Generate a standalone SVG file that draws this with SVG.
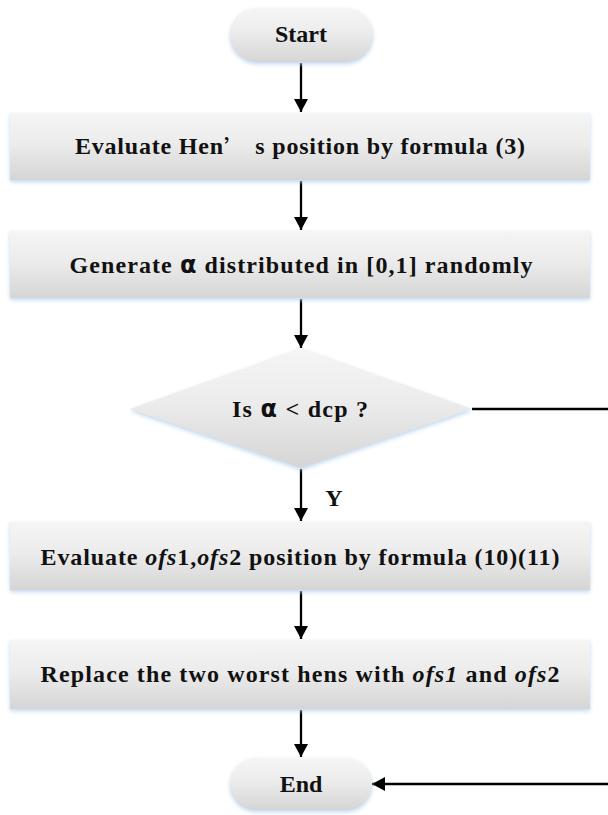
<svg xmlns="http://www.w3.org/2000/svg" width="608" height="815" viewBox="0 0 608 815">
  <defs>
    <linearGradient id="shade" x1="0" y1="0" x2="0" y2="1">
      <stop offset="0" stop-color="#f5f5f5"/>
      <stop offset="0.45" stop-color="#ececec"/>
      <stop offset="1" stop-color="#d5d5d5"/>
    </linearGradient>
    <filter id="glow" x="-5%" y="-10%" width="110%" height="130%">
      <feGaussianBlur in="SourceAlpha" stdDeviation="2"/>
      <feOffset dy="2" result="b"/>
      <feFlood flood-color="#b9d3ec" flood-opacity="0.9"/>
      <feComposite in2="b" operator="in" result="s"/>
      <feMerge><feMergeNode in="s"/><feMergeNode in="SourceGraphic"/></feMerge>
    </filter>
    <marker id="arrow" viewBox="0 0 13 14" refX="13" refY="7" markerWidth="13" markerHeight="14" markerUnits="userSpaceOnUse" orient="auto">
      <path d="M0,0 L13,7 L0,14 z" fill="#000"/>
    </marker>
  </defs>
  <style>
    .shape { fill: url(#shade); filter: url(#glow); }
    .lbl { font-family: "Liberation Serif", "Times New Roman", serif; font-weight: bold; font-size: 24px; fill: #111; text-anchor: middle; dominant-baseline: central; }
    .edge { stroke: #000; stroke-width: 2.3; fill: none; }
    .greek { font-family: "DejaVu Sans", sans-serif; font-size: 24px; }
  </style>

  <rect width="608" height="815" fill="#fff"/>

  <g id="connectors">
    <line class="edge" x1="301" y1="63" x2="301" y2="112" marker-end="url(#arrow)"/>
    <line class="edge" x1="301" y1="181" x2="301" y2="230" marker-end="url(#arrow)"/>
    <line class="edge" x1="301" y1="299" x2="301" y2="348" marker-end="url(#arrow)"/>
    <line class="edge" x1="301" y1="469" x2="301" y2="521" marker-end="url(#arrow)"/>
    <line class="edge" x1="301" y1="591" x2="301" y2="639" marker-end="url(#arrow)"/>
    <line class="edge" x1="301" y1="710" x2="301" y2="757" marker-end="url(#arrow)"/>
    <polyline class="edge" points="472,409 608,409"/>
    <line class="edge" x1="608" y1="784" x2="372" y2="784" marker-end="url(#arrow)"/>
    <text class="lbl" x="334" y="498">Y</text>
  </g>

  <g id="start">
    <rect class="shape" x="230" y="8" width="143" height="54" rx="27"/>
    <text class="lbl" x="301" y="34">Start</text>
  </g>

  <g id="eval-hen">
    <rect class="shape" x="10" y="113" width="580" height="67"/>
    <text class="lbl" x="300" y="146" textLength="450" lengthAdjust="spacing">Evaluate Hen<tspan font-family="Noto Sans CJK SC, sans-serif" font-weight="normal">’</tspan> s position by formula (3)</text>
  </g>

  <g id="gen-alpha">
    <rect class="shape" x="10" y="231" width="580" height="67"/>
    <text class="lbl" x="301" y="265" textLength="463" lengthAdjust="spacing">Generate <tspan class="greek">α</tspan> distributed in [0,1] randomly</text>
  </g>

  <g id="decision">
    <polygon class="shape" points="301,348 472,409 301,468 130,409"/>
    <text class="lbl" x="300" y="409" textLength="136" lengthAdjust="spacing">Is <tspan class="greek">α</tspan> &lt;  dcp ?</text>
  </g>

  <g id="eval-ofs">
    <rect class="shape" x="10" y="522" width="580" height="68"/>
    <text class="lbl" x="300" y="557" textLength="519" lengthAdjust="spacing">Evaluate <tspan font-style="italic">ofs</tspan>1,<tspan font-style="italic">ofs</tspan>2 position by formula (10)(11)</text>
  </g>

  <g id="replace">
    <rect class="shape" x="10" y="640" width="580" height="69"/>
    <text class="lbl" x="300" y="674" textLength="519" lengthAdjust="spacing">Replace the two worst  hens with <tspan font-style="italic">ofs1</tspan> and <tspan font-style="italic">ofs</tspan>2</text>
  </g>

  <g id="end">
    <rect class="shape" x="230" y="758" width="142" height="52" rx="26"/>
    <text class="lbl" x="301" y="784">End</text>
  </g>
</svg>
